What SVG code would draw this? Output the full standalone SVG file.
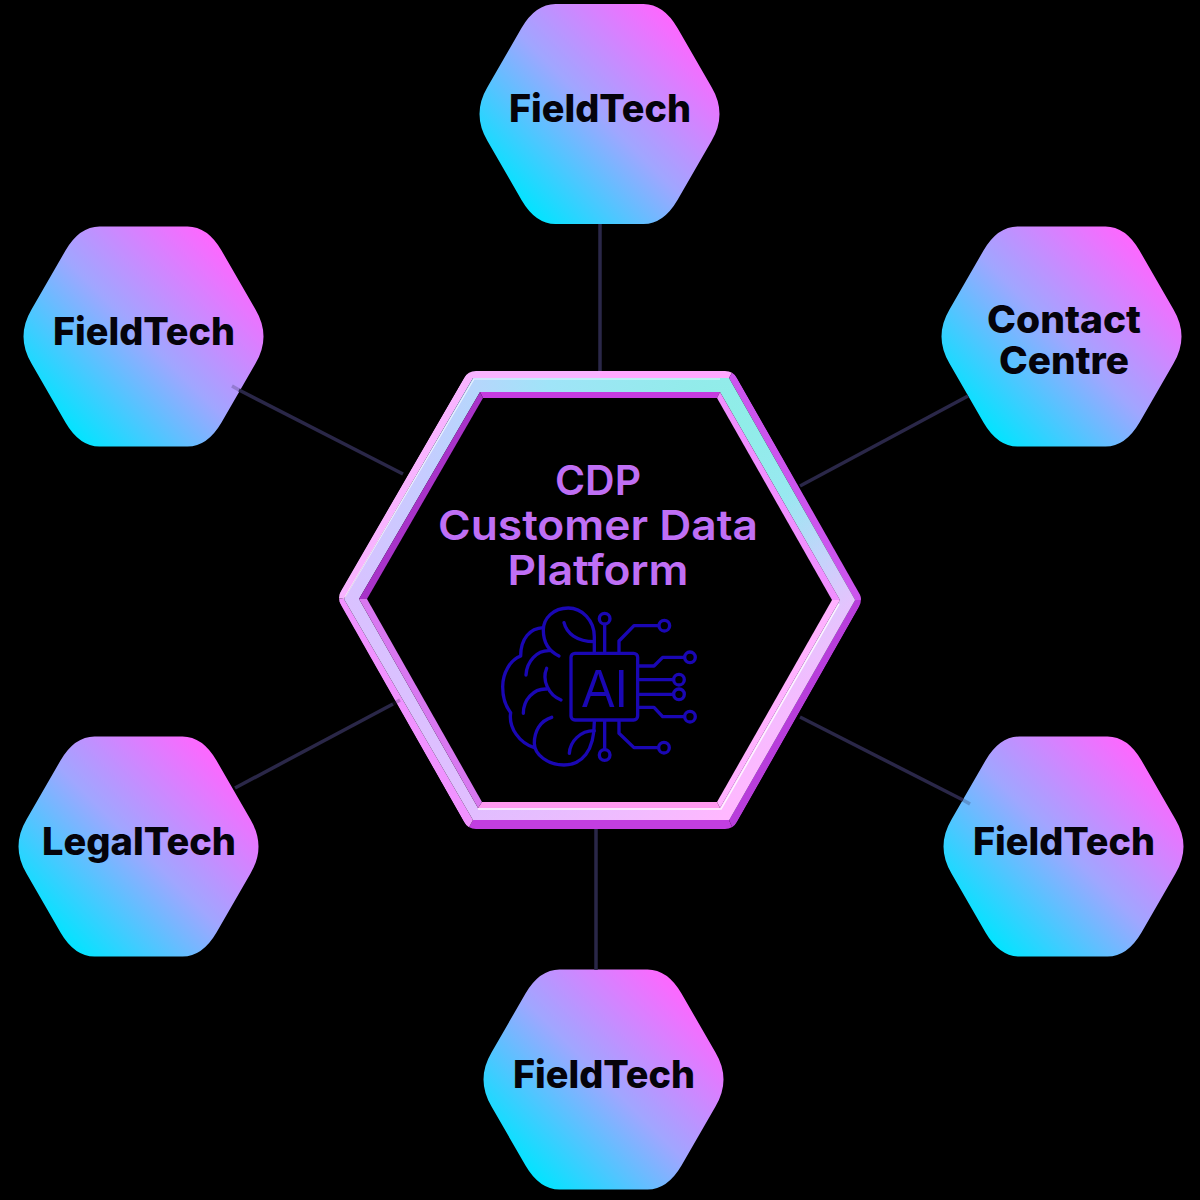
<svg xmlns="http://www.w3.org/2000/svg" width="1200" height="1200" viewBox="0 0 1200 1200">
<style>
.lbl{font-family:"Inter","Liberation Sans",sans-serif;font-weight:800;font-size:38px;fill:#05030a;text-anchor:middle}
.cdp{font-family:"Inter","Liberation Sans",sans-serif;font-weight:600;font-size:41px;fill:#bf6ff5;text-anchor:middle}
.conn{stroke:#2a2748;stroke-width:3.5;fill:none}
.faint{stroke-opacity:.25}
.ic{fill:none;stroke:#1a07b4;stroke-width:10;stroke-linecap:round;stroke-linejoin:round}
</style>
<defs>
<linearGradient id="ng" gradientUnits="userSpaceOnUse" x1="-85" y1="85" x2="85" y2="-85">
<stop offset="0" stop-color="#00e5ff"/><stop offset=".5" stop-color="#a0a6ff"/><stop offset="1" stop-color="#ff66ff"/>
</linearGradient>
<path id="hx" fill="url(#ng)" d="M-44,-110 H44 Q64,-110 78,-86 L112,-27 Q128,0 112,27 L78,86 Q64,110 44,110 H-44 Q-64,110 -78,86 L-112,27 Q-128,0 -112,-27 L-78,-86 Q-64,-110 -44,-110 Z"/>
<radialGradient id="band" gradientUnits="userSpaceOnUse" cx="720" cy="420" r="500">
<stop offset="0" stop-color="#8eeee6"/><stop offset=".35" stop-color="#a0e4f8"/><stop offset=".6" stop-color="#c6ccff"/><stop offset=".85" stop-color="#dcc0ff"/><stop offset="1" stop-color="#e6bcff"/>
</radialGradient>
<linearGradient id="band2" gradientUnits="userSpaceOnUse" x1="640" y1="640" x2="770" y2="770">
<stop offset="0" stop-color="#ffb8ff" stop-opacity="0"/><stop offset="1" stop-color="#ffb8ff"/>
</linearGradient>
<clipPath id="outer"><path d="M476,371 H725 Q733,371 737,378 L859,591 Q863,599 859,607 L737,822 Q733,829 725,829 H476 Q468,829 464,822 L341,606 Q337,598 341,590 L464,378 Q468,371 476,371 Z"/></clipPath>
</defs>
<rect width="1200" height="1200" fill="#000"/>
<g id="node-top"><use href="#hx" x="599.5" y="114"/><text class="lbl" x="600" y="122" textLength="182" lengthAdjust="spacingAndGlyphs">FieldTech</text></g>
<g id="node-upper-left"><use href="#hx" x="143.5" y="336.5"/><text class="lbl" x="144" y="345" textLength="182" lengthAdjust="spacingAndGlyphs">FieldTech</text></g>
<g id="node-upper-right"><use href="#hx" x="1061.5" y="336.5"/><text class="lbl" x="1064" y="333" textLength="154" lengthAdjust="spacingAndGlyphs">Contact</text><text class="lbl" x="1064" y="374" textLength="130" lengthAdjust="spacingAndGlyphs">Centre</text></g>
<g id="node-lower-left"><use href="#hx" x="138.5" y="846.5"/><text class="lbl" x="139" y="855" textLength="194" lengthAdjust="spacingAndGlyphs">LegalTech</text></g>
<g id="node-lower-right"><use href="#hx" x="1063.5" y="846.5"/><text class="lbl" x="1064" y="855" textLength="182" lengthAdjust="spacingAndGlyphs">FieldTech</text></g>
<g id="node-bottom"><use href="#hx" x="603.5" y="1079.5"/><text class="lbl" x="604" y="1088" textLength="182" lengthAdjust="spacingAndGlyphs">FieldTech</text></g>
<g id="node-center">
<g clip-path="url(#outer)">
<polygon points="337,598 468,371 600,371 600,378 473,378 344,599" fill="#f8b4ff"/>
<polygon points="600,371 733,371 729,378 600,378" fill="#ffa8ff"/>
<polygon points="733,371 863,600 855,600 729,378" fill="#cc55ee"/>
<polygon points="863,600 733,829 729,820 855,600" fill="#b83edb"/>
<polygon points="733,829 468,829 473,820 729,820" fill="#c23ee0"/>
<polygon points="468,829 337,598 344,599 473,820" fill="#f092ff"/>
</g>
<path fill="url(#band)" fill-rule="evenodd" d="M344,599 L473,378 H729 L855,600 L729,820 H473 Z M359,599 L478,808 H720 L840,600 L720,392 H480 Z"/>
<path fill="url(#band2)" fill-rule="evenodd" d="M344,599 L473,378 H729 L855,600 L729,820 H473 Z M359,599 L478,808 H720 L840,600 L720,392 H480 Z"/>
<polygon points="480,392 720,392 717,398 483,398" fill="#c63ce0"/>
<polygon points="720,392 840,600 832,600 717,398" fill="#f08fff"/>
<polygon points="840,600 720,808 717,802 832,600" fill="#ffb2ff"/>
<polygon points="720,808 478,808 482,802 717,802" fill="#ff99f0"/>
<polygon points="478,808 359,599 367,599 482,802" fill="#d878f0"/>
<polygon points="359,599 480,392 483,398 367,599" fill="#a833c8"/>
<polyline points="345,597 474,379 720,379" fill="none" stroke="#fff" stroke-opacity=".7" stroke-width="1.2"/>
<polyline points="478,809 721,809 839,604" fill="none" stroke="#fff" stroke-opacity=".85" stroke-width="1.5"/>
<text class="cdp" x="598" y="495" textLength="86" lengthAdjust="spacingAndGlyphs">CDP</text>
<text class="cdp" x="598" y="540" textLength="320" lengthAdjust="spacingAndGlyphs">Customer Data</text>
<text class="cdp" x="598" y="585" textLength="181" lengthAdjust="spacingAndGlyphs">Platform</text>
<g id="ai-icon" class="ic" transform="translate(490 600) scale(.3333)">
<rect x="243" y="160" width="200" height="200" rx="12"/>
<path d="M344,160 V75 M344,363 V446"/>
<circle cx="344" cy="56" r="16"/><circle cx="344" cy="465" r="16"/>
<path d="M387,157 V123 L432,77 H505"/><circle cx="523" cy="77" r="16"/>
<path d="M387,363 V400 L432,443 H505"/><circle cx="522" cy="443" r="16"/>
<path d="M445,198 H492 L518,172 H582"/><circle cx="600" cy="172" r="16"/>
<path d="M445,239 H550"/><circle cx="567" cy="239" r="16"/>
<path d="M445,283 H550"/><circle cx="567" cy="283" r="16"/>
<path d="M445,322 H492 L518,350 H582"/><circle cx="600" cy="350" r="16"/>
<path d="M313,157 V110 C313,60 275,24 235,24 C190,24 160,55 160,90 C160,130 180,155 207,168"/>
<path d="M222,68 C230,100 260,125 313,125"/>
<path d="M160,83 C120,85 92,115 92,168 C60,180 38,220 38,260 C38,295 48,320 62,338 C55,385 90,430 133,443"/>
<path d="M185,352 C150,362 133,395 133,430 C133,465 175,495 222,495 C275,495 313,455 313,365"/>
<path d="M238,460 C240,425 270,392 313,392"/>
<path d="M108,225 C110,185 140,150 180,152"/>
<path d="M170,205 C155,240 175,285 213,300"/>
<path d="M100,340 C100,300 130,265 170,267"/>
</g>
<text x="582" y="706.5" font-family="Liberation Sans, sans-serif" font-size="53" fill="#1a07b4" textLength="46" lengthAdjust="spacingAndGlyphs">AI</text>
</g>
<g id="connectors" class="conn">
<line x1="600" y1="224" x2="600" y2="371"/>
<line x1="596" y1="829" x2="596" y2="970"/>
<line x1="239" y1="390" x2="403" y2="474"/>
<line x1="968" y1="396" x2="800" y2="486"/>
<line x1="963" y1="800" x2="800" y2="717"/>
<line x1="235" y1="788" x2="393" y2="704"/>
<line class="faint" x1="232" y1="386" x2="239" y2="390"/>
<line class="faint" x1="963" y1="800" x2="970" y2="804"/>
<line class="faint" x1="393" y1="704" x2="400" y2="700"/>
</g>
</svg>
